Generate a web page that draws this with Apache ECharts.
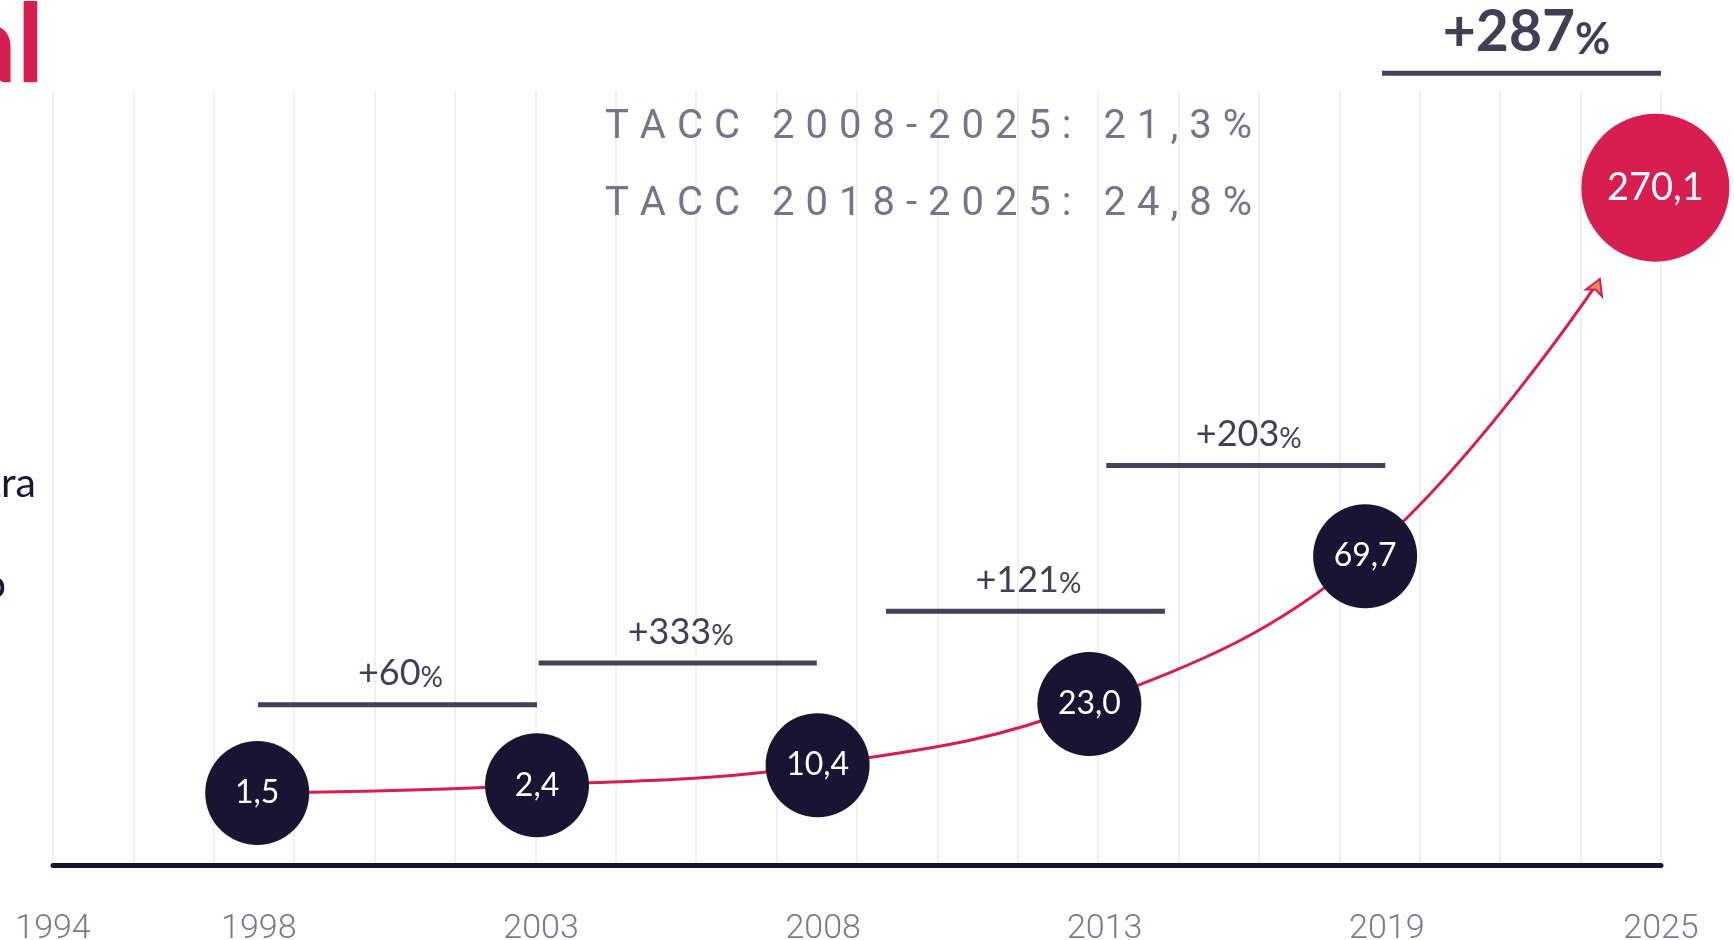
<!DOCTYPE html>
<html>
<head>
<meta charset="utf-8">
<script src="https://cdn.jsdelivr.net/npm/echarts@6/dist/echarts.min.js"></script>
<style>
  html, body { margin: 0; padding: 0; background: #fff; }
  #chart { width: 1734px; height: 940px; }
</style>
</head>
<body>
<div id="chart"></div>
<script>
// time axis labels and the grid column each one sits under
const yearLabels = ['1994', '1998', '2003', '2008', '2013', '2019', '2025'];
const yearSlots = [0, 2.56, 6.07, 9.58, 13.08, 16.59, 20];

// bubble values, their column and their height on the (stylised) curve
const bubbleValues = [1.5, 2.4, 10.4, 23.0, 69.7, 270.1];
const bubbleSlots = [2.54, 6.02, 9.51, 12.89, 16.32, 19.93];
const bubbleLevels = [9.3, 10.3, 12.9, 20.8, 39.9, 87.5];

// where the trend arrow stops, short of the last bubble
const arrowSlot = 19.24;
const arrowLevel = 75.7;

// growth between steps
const growthPct = [60, 333, 121, 203, 287];
const growthFrom = [2.55, 6.04, 10.36, 13.10, 16.53];
const growthTo = [6.02, 9.50, 13.83, 16.57, 20.0];
const growthLevels = [20.7, 26.1, 32.8, 51.6, 102.3];

const taccLines = ['TACC 2008-2025: 21,3%', 'TACC 2018-2025: 24,8%'];

const RED = '#d81e50';
const NAVY = '#1a1433';
const SLATE = '#423e55';

const chart = echarts.init(document.getElementById('chart'));

const fmt = v => v.toFixed(1).replace('.', ',');
const spaced = s => s.split('').map(ch => '{c|' + ch + '}').join('');

const linePoints = bubbleSlots.slice(0, 5).map((x, i) => [x, bubbleLevels[i]]);
linePoints.push({
  value: [arrowSlot, arrowLevel],
  symbol: 'arrow',
  symbolSize: [13, 15],
  symbolRotate: -23,
  itemStyle: { color: '#ee8a62', borderColor: RED, borderWidth: 2 }
});

const darkBubbles = bubbleSlots.slice(0, 5).map((x, i) => [x, bubbleLevels[i], bubbleValues[i]]);
const lastBubble = [[bubbleSlots[5], bubbleLevels[5], bubbleValues[5]]];

const growthData = growthPct.map((p, i) => [growthFrom[i], growthTo[i], growthLevels[i], p]);

function renderGrowth(params, api) {
  const big = params.dataIndex === growthPct.length - 1;
  const a = api.coord([api.value(0), api.value(2)]);
  const b = api.coord([api.value(1), api.value(2)]);
  return {
    type: 'group',
    children: [
      {
        type: 'line',
        shape: { x1: a[0], y1: a[1], x2: b[0], y2: b[1] },
        style: { stroke: '#45415a', lineWidth: 5 }
      },
      {
        type: 'text',
        x: (a[0] + b[0]) / 2 + (big ? 5 : 3),
        y: a[1] - (big ? 12 : 13),
        style: {
          text: '{n|+' + api.value(3) + '}{p|%}',
          align: 'center',
          verticalAlign: 'bottom',
          rich: {
            n: {
              fontFamily: 'Lato', fontSize: big ? 57 : 36, fontWeight: big ? 'bold' : 'normal',
              fill: SLATE, verticalAlign: 'bottom', lineHeight: big ? 57 : 36
            },
            p: {
              fontFamily: 'Lato', fontSize: big ? 43 : 28, fontWeight: big ? 'bold' : 'normal',
              fill: SLATE, verticalAlign: 'bottom', lineHeight: big ? 50 : 33
            }
          }
        }
      }
    ]
  };
}

const option = {
  backgroundColor: '#ffffff',
  animation: false,
  title: taccLines.map((t, i) => ({
    text: spaced(t),
    left: 600,
    top: 103 + i * 77,
    textStyle: {
      fontWeight: 'normal',
      rich: {
        c: {
          fontFamily: 'Roboto', fontSize: 40, fontWeight: 'normal',
          color: '#77738a', padding: [0, 11, 0, 0]
        }
      }
    }
  })),
  graphic: [
    {
      type: 'text', x: 44, y: 47,
      style: { text: 'Global', align: 'right', verticalAlign: 'middle', font: 'bold 110px Lato', fill: RED }
    },
    {
      type: 'text', x: 36, y: 484,
      style: { text: 'extra', align: 'right', verticalAlign: 'middle', font: '41px Lato', fill: NAVY }
    },
    {
      type: 'text', x: 6, y: 585,
      style: { text: 'do', align: 'right', verticalAlign: 'middle', font: '41px Lato', fill: NAVY }
    }
  ],
  grid: { left: 53, right: 73, top: 91, bottom: 75, containLabel: false, outerBoundsMode: 'none' },
  xAxis: {
    type: 'value',
    min: 0,
    max: 20,
    interval: 1,
    axisLine: { show: true, lineStyle: { color: NAVY, width: 5 } },
    axisTick: { show: false },
    splitLine: { show: true, lineStyle: { color: '#f0eaec', width: 1.5 } },
    axisLabel: {
      customValues: yearSlots,
      margin: 47,
      fontFamily: 'Roboto',
      fontWeight: 300,
      fontSize: 34,
      color: '#7b778c',
      showMinLabel: true,
      showMaxLabel: true,
      formatter: v => {
        let best = 0;
        yearSlots.forEach((s, i) => { if (Math.abs(s - v) < Math.abs(yearSlots[best] - v)) best = i; });
        return yearLabels[best];
      }
    }
  },
  yAxis: {
    type: 'value', min: 0, max: 100, show: false,
    splitLine: { show: false }
  },
  series: [
    {
      type: 'line',
      data: linePoints,
      smooth: 0.4,
      symbol: 'none',
      lineStyle: { color: RED, width: 3 },
      z: 2
    },
    {
      type: 'custom',
      data: growthData,
      renderItem: renderGrowth,
      clip: false,
      z: 3
    },
    {
      type: 'scatter',
      data: darkBubbles,
      symbolSize: 104,
      itemStyle: { color: NAVY, opacity: 1 },
      label: {
        show: true, position: 'inside',
        formatter: p => fmt(p.value[2]),
        fontFamily: 'Lato', fontSize: 32, color: '#ffffff'
      },
      z: 4
    },
    {
      type: 'scatter',
      data: lastBubble,
      symbolSize: 148,
      itemStyle: { color: RED, opacity: 1 },
      label: {
        show: true, position: 'inside',
        formatter: p => fmt(p.value[2]),
        fontFamily: 'Lato', fontSize: 38, color: '#ffffff'
      },
      z: 4
    }
  ]
};

chart.setOption(option);
</script>
</body>
</html>
